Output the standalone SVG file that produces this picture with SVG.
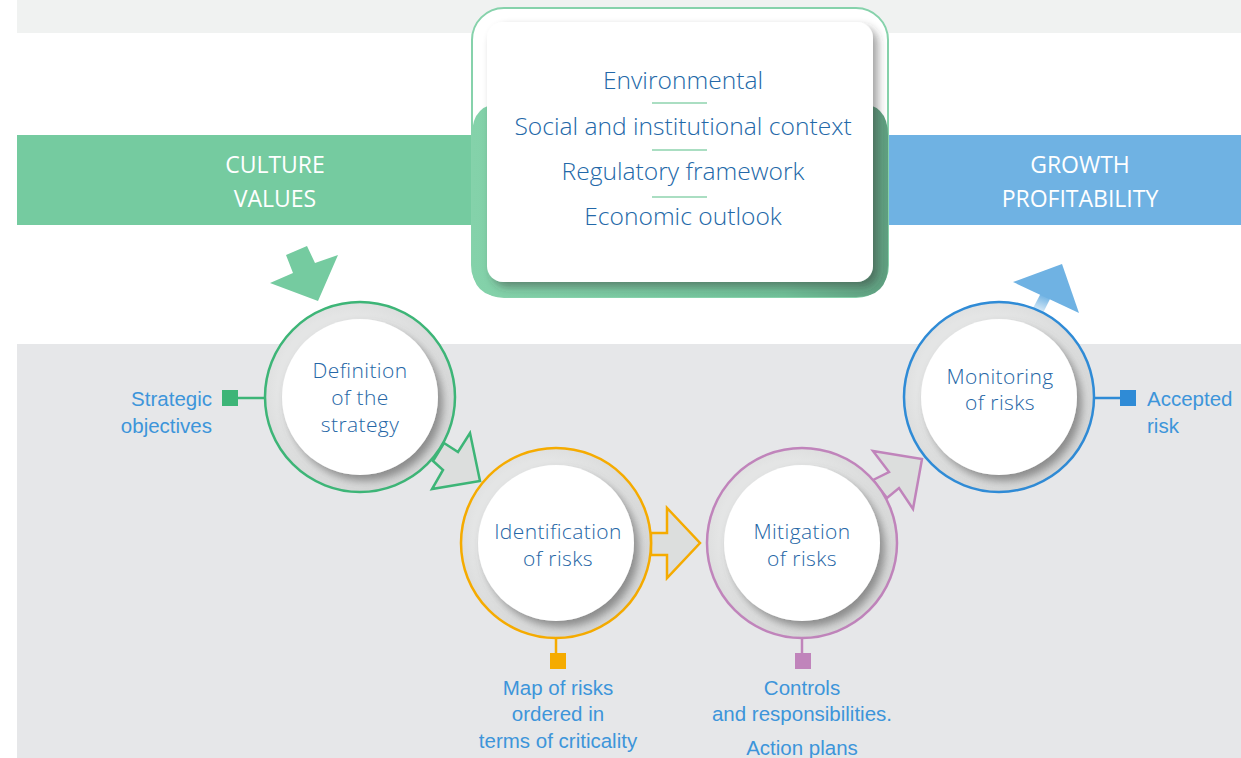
<svg xmlns="http://www.w3.org/2000/svg" width="1241" height="758" viewBox="0 0 1241 758">
<style>
.band{font-family:"Open Sans","Liberation Sans",sans-serif;font-size:23px;fill:#ffffff;text-anchor:middle}
.card{font-family:"Open Sans","Liberation Sans",sans-serif;font-weight:300;font-size:24.6px;fill:#2368a8;text-anchor:middle}
.node{font-family:"Open Sans","Liberation Sans",sans-serif;font-weight:300;font-size:21px;letter-spacing:0.4px;fill:#2566a6;text-anchor:middle}
.lbl{font-family:"Liberation Sans",Arial,sans-serif;font-size:20.5px;fill:#3d95da}
.div{stroke:#8ed3ae;stroke-width:1.5}
.ring{stroke-width:2.5}
</style>
<defs>
<radialGradient id="ringG" cx="0.45" cy="0.45" r="0.55">
<stop offset="0.7" stop-color="#e4e5e5"/>
<stop offset="1" stop-color="#d6d7d7"/>
</radialGradient>
<filter id="sh" x="-30%" y="-30%" width="160%" height="160%">
<feDropShadow dx="5" dy="6" stdDeviation="4" flood-color="#555" flood-opacity="0.6"/>
</filter>
<filter id="cardSh" x="-10%" y="-10%" width="120%" height="125%">
<feDropShadow dx="5" dy="5" stdDeviation="4" flood-color="#333" flood-opacity="0.45"/>
</filter>
<linearGradient id="greenG" x1="0" y1="0" x2="1" y2="0">
<stop offset="0" stop-color="#84d2aa"/>
<stop offset="0.75" stop-color="#6fbf97"/>
<stop offset="1" stop-color="#5f9f80"/>
</linearGradient>
<linearGradient id="shaftG" x1="0" y1="1" x2="0.3" y2="0">
<stop offset="0" stop-color="#ffffff"/>
<stop offset="1" stop-color="#6fb2e3"/>
</linearGradient>
</defs>

<g id="background">
<rect x="17" y="0" width="1224" height="33" fill="#f0f2f1"/>
<rect x="17" y="344" width="1224" height="414" fill="#e6e7e9"/>
</g>

<g id="band-culture">
<rect x="17" y="135" width="460" height="90" fill="#75cba0"/>
<text class="band" x="275" y="173">CULTURE</text>
<text class="band" x="275" y="207">VALUES</text>
</g>
<g id="band-growth">
<rect x="884" y="135" width="357" height="90" fill="#6fb2e3"/>
<text class="band" x="1080" y="173">GROWTH</text>
<text class="band" x="1080" y="207">PROFITABILITY</text>
</g>

<g id="context-box">
<rect x="472" y="8" width="416" height="289" rx="32" fill="#ffffff" stroke="#86d2ab" stroke-width="2"/>
<path d="M472 135 Q472 103 504 103 L856 103 Q888 103 888 135 L888 265 Q888 297 856 297 L504 297 Q472 297 472 265 Z" fill="url(#greenG)"/>
<rect x="487" y="22" width="386" height="260" rx="16" fill="#ffffff" filter="url(#cardSh)"/>
<text class="card" x="683" y="89">Environmental</text>
<line class="div" x1="652" y1="103" x2="707" y2="103"/>
<text class="card" x="683" y="135">Social and institutional context</text>
<line class="div" x1="652" y1="150" x2="707" y2="150"/>
<text class="card" x="683" y="180">Regulatory framework</text>
<line class="div" x1="652" y1="197" x2="707" y2="197"/>
<text class="card" x="683" y="225">Economic outlook</text>
</g>

<g id="connectors">
<polygon points="286,255 307,246 315,263 338,255 318,301 270,283 293,273" fill="#75cba0"/>
<polygon points="444,443 458,452 470,433 480,481 432,489 443,470 433,461" fill="#dcdedd" stroke="#3db577" stroke-width="2.5" stroke-linejoin="miter"/>
<polygon points="651,533 667,533 667,508 700,543 667,578 667,555 651,555" fill="#dcdedd" stroke="#f5ab00" stroke-width="2.5"/>
<polygon points="873,480 889,472 873,451 922,459 913,509 899,488 887,498" fill="#dcdedd" stroke="#c084bb" stroke-width="2.5"/>
<polygon points="1032,310 1041,293 1051,297 1042,315" fill="url(#shaftG)"/>
<polygon points="1013,282 1062,264 1079,313" fill="#6fb2e3"/>
<line x1="238" y1="398" x2="265" y2="398" stroke="#3db577" stroke-width="2.5"/>
<line x1="556" y1="638" x2="556" y2="655" stroke="#f5ab00" stroke-width="2.5"/>
<line x1="802" y1="638" x2="802" y2="655" stroke="#c084bb" stroke-width="2.5"/>
<line x1="1095" y1="398" x2="1121" y2="398" stroke="#2f8bd6" stroke-width="2.5"/>
</g>

<g id="node-definition">
<circle class="ring" cx="360" cy="397" r="95" fill="url(#ringG)" stroke="#3db577"/>
<circle cx="360" cy="397" r="78" fill="#ffffff" filter="url(#sh)"/>
<text class="node" x="360" y="378">Definition</text>
<text class="node" x="360" y="405">of the</text>
<text class="node" x="360" y="432">strategy</text>
<rect x="222" y="390" width="16" height="16" fill="#3db577"/>
<text class="lbl" x="212" y="406" text-anchor="end">Strategic</text>
<text class="lbl" x="212" y="433" text-anchor="end">objectives</text>
</g>

<g id="node-identification">
<circle class="ring" cx="556" cy="543" r="95" fill="url(#ringG)" stroke="#f5ab00"/>
<circle cx="556" cy="543" r="78" fill="#ffffff" filter="url(#sh)"/>
<text class="node" x="558" y="539">Identification</text>
<text class="node" x="558" y="566">of risks</text>
<rect x="550" y="653" width="16" height="16" fill="#f5ab00"/>
<text class="lbl" x="558" y="695" text-anchor="middle">Map of risks</text>
<text class="lbl" x="558" y="721" text-anchor="middle">ordered in</text>
<text class="lbl" x="558" y="748" text-anchor="middle">terms of criticality</text>
</g>

<g id="node-mitigation">
<circle class="ring" cx="802" cy="543" r="95" fill="url(#ringG)" stroke="#c084bb"/>
<circle cx="802" cy="543" r="78" fill="#ffffff" filter="url(#sh)"/>
<text class="node" x="802" y="539">Mitigation</text>
<text class="node" x="802" y="566">of risks</text>
<rect x="795" y="653" width="16" height="16" fill="#c084bb"/>
<text class="lbl" x="802" y="695" text-anchor="middle">Controls</text>
<text class="lbl" x="802" y="721" text-anchor="middle">and responsibilities.</text>
<text class="lbl" x="802" y="755" text-anchor="middle">Action plans</text>
</g>

<g id="node-monitoring">
<circle class="ring" cx="999" cy="397" r="95" fill="url(#ringG)" stroke="#2f8bd6"/>
<circle cx="999" cy="397" r="78" fill="#ffffff" filter="url(#sh)"/>
<text class="node" x="1000" y="384">Monitoring</text>
<text class="node" x="1000" y="410">of risks</text>
<rect x="1120" y="390" width="16" height="16" fill="#2f8bd6"/>
<text class="lbl" x="1147" y="406">Accepted</text>
<text class="lbl" x="1147" y="433">risk</text>
</g>
</svg>
